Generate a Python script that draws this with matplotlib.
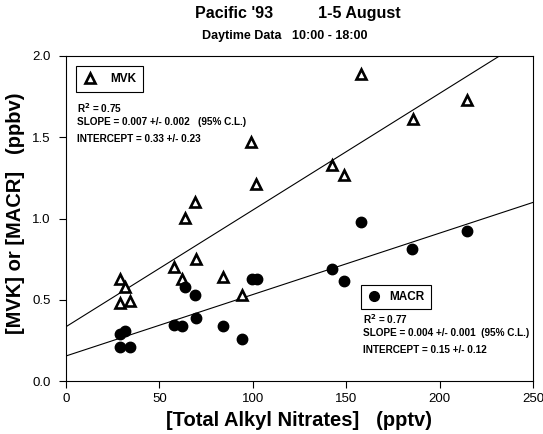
import numpy as np
import matplotlib
matplotlib.use("Agg")
import matplotlib.pyplot as plt
from matplotlib.lines import Line2D

plt.rcParams['font.family'] = ['Liberation Sans', 'DejaVu Sans']

mvk_x = [29, 31.6, 28.9, 34.3, 58, 61.9, 63.7, 69, 69.6, 84.2, 94, 99, 101.7,
         157.7, 214.5, 185.6, 142.2, 149]
mvk_y = [0.63, 0.58, 0.48, 0.49, 0.70, 0.63, 1.005, 1.10, 0.75, 0.64, 0.53, 1.47, 1.21,
         1.887, 1.73, 1.61, 1.33, 1.27]

macr_x = [28.9, 31.6, 28.9, 34.3, 58, 62.3, 63.7, 69, 69.6, 84.2, 94, 99.4, 102,
          157.9, 142.6, 149, 185.4, 214.5]
macr_y = [0.29, 0.31, 0.21, 0.21, 0.345, 0.34, 0.577, 0.53, 0.39, 0.34, 0.256, 0.63, 0.63,
          0.977, 0.69, 0.617, 0.814, 0.923]

# regression lines (intercept, slope)
mvk_fit = (0.334, 0.00718)
macr_fit = (0.154, 0.00378)

xticks = [0, 50, 100, 150, 200, 250]
yticks = [0.0, 0.5, 1.0, 1.5, 2.0]

fig = plt.figure(figsize=(5.43, 4.34), dpi=100)
ax = fig.add_axes([66/543, 1-381/434, (533-66)/543, (381-56)/434])

xl = np.array([0, 250])
ax.plot(xl, mvk_fit[0] + mvk_fit[1]*xl, color='black', lw=0.8)
ax.plot(xl, macr_fit[0] + macr_fit[1]*xl, color='black', lw=0.8)

ax.plot(mvk_x, mvk_y, linestyle='none', marker='^', markersize=7.5,
        markerfacecolor='white', markeredgecolor='black', markeredgewidth=1.9)
ax.plot(macr_x, macr_y, linestyle='none', marker='o', markersize=7.5,
        markerfacecolor='black', markeredgecolor='black')

ax.set_xlim(0, 250)
ax.set_ylim(0, 2.0)
ax.set_xticks(xticks)
ax.set_yticks(yticks)
ax.set_xticklabels([str(v) for v in xticks], fontsize=9.5)
ax.set_yticklabels([f"{v:.1f}" for v in yticks], fontsize=9.5)
ax.tick_params(direction='out', length=5, width=0.8)
ax.tick_params(axis='y', pad=6)

ax.set_xlabel("[Total Alkyl Nitrates]   (pptv)", fontsize=14.5, fontweight='bold')
ax.set_ylabel("[MVK] or [MACR]   (ppbv)", fontsize=14.5, fontweight='bold')
ax.xaxis.set_label_coords(0.5, -0.092)
ax.yaxis.set_label_coords(-0.087, 0.515)

fig.text(0.549, 0.968, "Pacific '93          1-5 August", ha='center', va='center',
         fontsize=11.5, fontweight='bold')
fig.text(0.525, 0.916, "Daytime Data   10:00 - 18:00", ha='center', va='center',
         fontsize=9, fontweight='bold')

h1 = Line2D([], [], linestyle='none', marker='^', markersize=7,
            markerfacecolor='white', markeredgecolor='black', markeredgewidth=1.9)
leg1 = ax.legend([h1], ['MVK'], loc='upper left', bbox_to_anchor=(0.0207, 0.970),
                 borderaxespad=0, fancybox=False, edgecolor='black', framealpha=1,
                 prop={'weight': 'bold', 'size': 8.5}, handletextpad=1.0,
                 borderpad=0.6, handlelength=1.3)
leg1.get_frame().set_linewidth(0.8)
ax.add_artist(leg1)

h2 = Line2D([], [], linestyle='none', marker='o', markersize=7,
            markerfacecolor='black', markeredgecolor='black')
leg2 = ax.legend([h2], ['MACR'], loc='upper left', bbox_to_anchor=(0.632, 0.295),
                 borderaxespad=0, fancybox=False, edgecolor='black', framealpha=1,
                 prop={'weight': 'bold', 'size': 8.5}, handletextpad=0.8,
                 borderpad=0.5, handlelength=1.1)
leg2.get_frame().set_linewidth(0.8)

fs = 7.2
ax.text(0.023, 0.84, r"R$^{\mathbf{2}}$ = 0.75", transform=ax.transAxes, fontsize=fs, fontweight='bold', va='center')
ax.text(0.023, 0.797, "SLOPE = 0.007 +/- 0.002   (95% C.L.)", transform=ax.transAxes, fontsize=fs, fontweight='bold', va='center')
ax.text(0.023, 0.745, "INTERCEPT = 0.33 +/- 0.23", transform=ax.transAxes, fontsize=fs, fontweight='bold', va='center')

ax.text(0.636, 0.191, r"R$^{\mathbf{2}}$ = 0.77", transform=ax.transAxes, fontsize=fs, fontweight='bold', va='center')
ax.text(0.636, 0.148, "SLOPE = 0.004 +/- 0.001  (95% C.L.)", transform=ax.transAxes, fontsize=fs, fontweight='bold', va='center')
ax.text(0.636, 0.095, "INTERCEPT = 0.15 +/- 0.12", transform=ax.transAxes, fontsize=fs, fontweight='bold', va='center')

fig.savefig("out.png", dpi=100)
